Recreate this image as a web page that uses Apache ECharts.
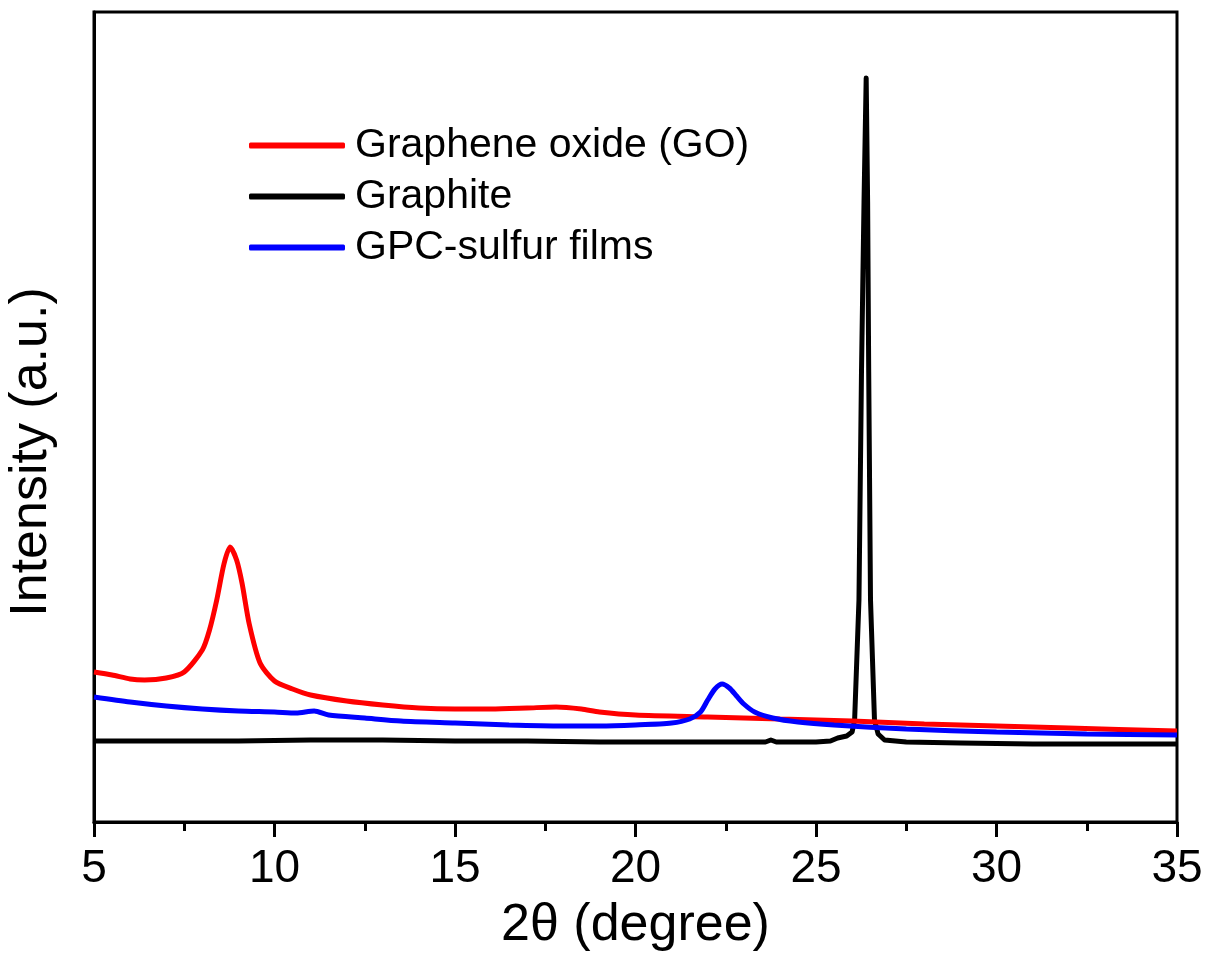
<!DOCTYPE html>
<html lang="en" style="height: 100%">
<head>
    <meta charset="utf-8">
    <title>XRD patterns</title>
    <script src="https://cdn.jsdelivr.net/npm/echarts@6/dist/echarts.min.js"></script>
</head>
<body style="height: 100%; margin: 0; background: #fff">
    <div id="main" style="width: 1209px; height: 960px"></div>
    <script>
        // 2θ (degree) and intensity (a.u.)
        const goX = [5.0, 5.5, 6.0, 6.4, 7.0, 7.5, 8.0, 8.2, 8.4, 8.6, 8.77, 8.95, 9.1, 9.3, 9.6, 10.0, 10.5, 11.0, 12.0, 13.0, 14.0, 15.0, 16.0, 17.0, 17.8, 18.5, 19.0, 20.0, 22.0, 24.0, 26.0, 28.0, 30.0, 32.0, 35.0];
        const goY = [150, 147, 143, 142, 144, 150, 172, 192, 222, 258, 275, 262, 239, 198, 159, 141, 133, 127, 121, 117, 114, 113, 113, 114, 115, 113, 110, 107, 105, 103, 101, 98, 96, 94, 91];

        const graphiteX = [5, 7, 9, 11, 13, 15, 17, 19, 21, 23, 23.6, 23.75, 23.9, 25.0, 25.4, 25.6, 25.85, 26.0, 26.07, 26.19, 26.26, 26.33, 26.39, 26.43, 26.46, 26.51, 26.62, 26.72, 26.9, 27.5, 29, 31, 33, 35];
        const graphiteY = [81, 81, 81, 82, 82, 81, 81, 80, 80, 80, 80, 82, 80, 80, 81, 84, 86, 90, 102, 222, 450, 620, 744, 620, 450, 222, 102, 88, 82, 80, 79, 78, 78, 78];

        const gpcX = [5.0, 6.0, 7.0, 8.0, 9.0, 10.0, 10.6, 11.1, 11.5, 12.5, 13.5, 15.0, 16.5, 18.0, 19.0, 20.0, 21.0, 21.5, 21.8, 22.0, 22.2, 22.4, 22.6, 22.8, 23.0, 23.3, 23.8, 24.5, 25.5, 27.5, 30, 32.5, 35];
        const gpcY = [125, 120, 116, 113, 111, 110, 109, 111, 107, 104, 101, 99, 97, 96, 96, 97, 99, 103, 110, 122, 133, 138, 134, 126, 118, 110, 104, 100, 97, 93, 90, 88, 87];

        const font = 'Liberation Sans, Arial, sans-serif';
        const pairs = (xs, ys) => xs.map((x, i) => [x, ys[i]]);

        const chart = echarts.init(document.getElementById('main'), null, { renderer: 'canvas' });

        chart.setOption({
            animation: false,
            backgroundColor: '#fff',
            grid: {
                left: 94,
                right: 32,
                top: 12,
                bottom: 138,
                outerBoundsMode: 'none',
                show: true,
                borderColor: '#000',
                borderWidth: 3
            },
            legend: {
                orient: 'vertical',
                left: 249,
                top: 125,
                padding: 0,
                icon: 'roundRect',
                itemWidth: 96,
                itemHeight: 6,
                itemGap: 10,
                textStyle: {
                    fontFamily: font,
                    fontSize: 41,
                    color: '#000',
                    lineHeight: 40,
                    padding: [0, 0, 0, 5]
                },
                data: ['Graphene oxide (GO)', 'Graphite', 'GPC-sulfur films']
            },
            xAxis: {
                type: 'value',
                min: 5,
                max: 35,
                interval: 5,
                name: '2θ (degree)',
                nameLocation: 'middle',
                nameGap: 78,
                nameTextStyle: { fontFamily: font, fontSize: 52, color: '#000' },
                axisLine: { lineStyle: { color: '#000', width: 3 } },
                axisTick: { length: 15, lineStyle: { color: '#000', width: 3 } },
                minorTick: { show: true, splitNumber: 2, length: 9, lineStyle: { color: '#000', width: 3 } },
                axisLabel: { fontFamily: font, fontSize: 46, color: '#000', margin: 24 },
                splitLine: { show: false }
            },
            yAxis: {
                type: 'value',
                min: 0,
                max: 810,
                name: 'Intensity (a.u.)',
                nameLocation: 'middle',
                nameGap: 36,
                nameTextStyle: { fontFamily: font, fontSize: 52, color: '#000', padding: [0, 70, 0, 0] },
                axisLine: { show: true, lineStyle: { color: '#000', width: 3 } },
                axisTick: { show: false },
                axisLabel: { show: false },
                splitLine: { show: false }
            },
            series: [
                {
                    name: 'Graphene oxide (GO)',
                    type: 'line',
                    data: pairs(goX, goY),
                    symbol: 'none',
                    smooth: 0.25,
                    lineStyle: { color: '#ff0000', width: 5 },
                    itemStyle: { color: '#ff0000' },
                    z: 3
                },
                {
                    name: 'Graphite',
                    type: 'line',
                    data: pairs(graphiteX, graphiteY),
                    symbol: 'none',
                    lineStyle: { color: '#000', width: 5, join: 'round' },
                    itemStyle: { color: '#000' },
                    z: 2
                },
                {
                    name: 'GPC-sulfur films',
                    type: 'line',
                    data: pairs(gpcX, gpcY),
                    symbol: 'none',
                    smooth: 0.25,
                    lineStyle: { color: '#0000ff', width: 5 },
                    itemStyle: { color: '#0000ff' },
                    z: 4
                }
            ]
        });
    </script>
</body>
</html>
